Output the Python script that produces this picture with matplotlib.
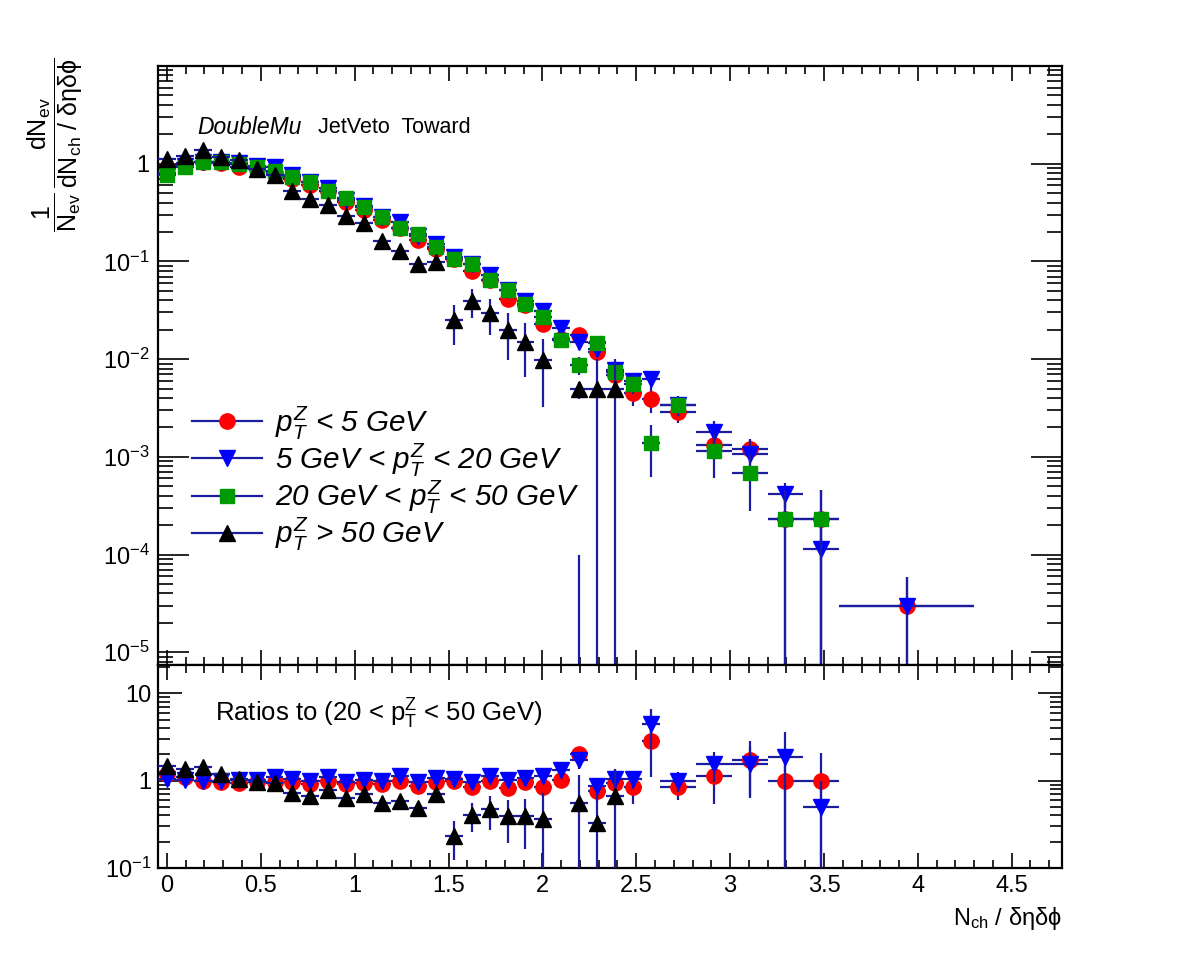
import numpy as np
import matplotlib
matplotlib.use('Agg')
import matplotlib.pyplot as plt
from matplotlib.lines import Line2D
from matplotlib.ticker import FixedLocator, NullFormatter, FuncFormatter, LogLocator, MultipleLocator

plt.rcParams['font.family'] = ['Liberation Sans', 'DejaVu Sans']
plt.rcParams['mathtext.fontset'] = 'custom'
plt.rcParams['mathtext.rm'] = 'Liberation Sans'
plt.rcParams['mathtext.it'] = 'Liberation Sans:italic'
plt.rcParams['mathtext.bf'] = 'Liberation Sans:bold'
plt.rcParams['mathtext.sf'] = 'Liberation Sans'

# ---------------- data ----------------
x_centers = [0.0, 0.0955, 0.191, 0.2865, 0.382, 0.4775, 0.573, 0.6685, 0.764, 0.8595,
             0.955, 1.0505, 1.146, 1.2415, 1.337, 1.4325, 1.528, 1.6235, 1.719, 1.8145,
             1.91, 2.0055, 2.101, 2.1965, 2.292, 2.3875, 2.483, 2.5785,
             2.722, 2.913, 3.104, 3.295, 3.486, 3.94]
x_halfwidth = [0.0477] * 28 + [0.0955, 0.0955, 0.0955, 0.0955, 0.0955, 0.358]

labels = [r'$p_T^Z$ < 5 GeV',
          r'5 GeV < $p_T^Z$ < 20 GeV',
          r'20 GeV < $p_T^Z$ < 50 GeV',
          r'$p_T^Z$ > 50 GeV']

N = None
red_vals = [0.91, 1.02, 1.03, 1.01, 0.93, 0.88, 0.81, 0.70, 0.60, 0.52, 0.41, 0.335, 0.265, 0.221,
            0.165, 0.134, 0.107, 0.080, 0.064, 0.041, 0.0355, 0.0231, 0.0159, 0.0175, 0.0118,
            0.0068, 0.0045, 0.0039, 0.0029, 0.00132, 0.00120, 0.000229, 0.000229, 2.95e-5]
red_errs = [0.02, 0.02, 0.02, 0.02, 0.02, 0.02, 0.02, 0.018, 0.016, 0.014, 0.012, 0.010, 0.009,
            0.008, 0.007, 0.006, 0.005, 0.0045, 0.004, 0.0035, 0.003, 0.0028, 0.0022, 0.0025,
            0.002, 0.0016, 0.0012, 0.0011, 0.0007, 0.00035, 0.00032, 0.000229, 0.000229, 2.9e-5]

blue_vals = [0.80, 0.95, 1.03, 1.03, 1.02, 0.94, 0.92, 0.77, 0.65, 0.57, 0.43, 0.37, 0.288, 0.252,
             0.181, 0.150, 0.112, 0.093, 0.073, 0.0515, 0.0395, 0.031, 0.0210, 0.0150, 0.0128,
             0.0078, 0.0060, 0.0062, 0.0034, 0.0018, 0.00108, 0.00042, 0.000115, 3.0e-5]
blue_errs = [0.02, 0.02, 0.02, 0.02, 0.02, 0.02, 0.02, 0.018, 0.016, 0.014, 0.012, 0.010, 0.009,
             0.008, 0.007, 0.006, 0.005, 0.0045, 0.004, 0.0035, 0.003, 0.0028, 0.0022, 0.0025,
             0.002, 0.0016, 0.0012, 0.0012, 0.0006, 0.0005, 0.0004, 0.00012, 0.000115, 2.9e-5]

green_vals = [0.76, 0.92, 1.03, 1.03, 1.0, 0.92, 0.84, 0.73, 0.65, 0.52, 0.45, 0.36, 0.288, 0.221,
              0.189, 0.14, 0.107, 0.0947, 0.064, 0.0505, 0.0369, 0.027, 0.0156, 0.00865, 0.0146,
              0.0074, 0.0056, 0.00137, 0.00342, 0.00115, 0.00068, 0.000229, 0.000229, N]
green_errs = [0.02, 0.02, 0.02, 0.02, 0.02, 0.02, 0.02, 0.018, 0.016, 0.014, 0.012, 0.010, 0.009,
              0.008, 0.007, 0.006, 0.005, 0.0045, 0.004, 0.0035, 0.003, 0.003, 0.0025, 0.0018,
              0.0025, 0.0015, 0.0012, 0.00075, 0.0008, 0.00055, 0.0004, 0.000229, 0.000229, N]

black_vals = [1.12, 1.21, 1.39, 1.18, 1.08, 0.89, 0.76, 0.53, 0.44, 0.38, 0.295, 0.246, 0.162,
              0.128, 0.093, 0.098, 0.0249, 0.0393, 0.0296, 0.0197, 0.015, 0.0097, N, 0.0049,
              0.0049, 0.0049, N, N, N, N, N, N, N, N]
black_errs = [0.05, 0.05, 0.06, 0.05, 0.045, 0.04, 0.035, 0.03, 0.027, 0.025, 0.022, 0.02, 0.016,
              0.014, 0.012, 0.012, 0.011, 0.013, 0.012, 0.010, 0.0085, 0.0065, N, 0.001,
              0.0052, 0.0052, N, N, N, N, N, N, N, N]

# isolated error segment seen at the 2.2 bin (drawn up to this value from the bottom)
stray_x = [2.1965]
stray_top = [1.0e-4]

red_ratio = [1.19, 1.11, 1.0, 0.98, 0.93, 0.96, 0.96, 0.96, 0.92, 1.0, 0.92, 0.93, 0.92, 1.0, 0.875,
             0.96, 1.0, 0.85, 1.0, 0.815, 0.96, 0.84, 1.02, 2.0, 0.77, 0.93, 0.84, 2.89, 0.853,
             1.14, 1.73, 1.0, 1.0, N]
red_ratio_err = [0.04, 0.035, 0.03, 0.03, 0.03, 0.03, 0.03, 0.03, 0.03, 0.035, 0.035, 0.04, 0.04,
                 0.045, 0.05, 0.055, 0.06, 0.07, 0.08, 0.09, 0.1, 0.11, 0.15, 0.45, 0.2, 0.25, 0.3,
                 1.8, 0.25, 0.6, 1.1, 1.0, 1.06, N]
blue_ratio = [1.05, 1.03, 1.0, 1.0, 1.02, 1.02, 1.09, 1.05, 1.0, 1.09, 0.96, 1.03, 1.0, 1.14, 0.96,
              1.07, 1.05, 0.98, 1.14, 1.02, 1.07, 1.14, 1.33, 1.73, 0.875, 1.05, 1.05, 4.5, 1.0,
              1.56, 1.56, 1.86, 0.5, N]
blue_ratio_err = [0.04, 0.035, 0.03, 0.03, 0.03, 0.03, 0.03, 0.03, 0.035, 0.035, 0.035, 0.04, 0.04,
                  0.045, 0.05, 0.055, 0.06, 0.07, 0.08, 0.09, 0.1, 0.11, 0.15, 0.35, 0.2, 0.3, 0.25,
                  2.2, 0.25, 0.6, 0.9, 1.8, 0.5, N]
black_ratio = [1.49, 1.36, 1.42, 1.19, 1.05, 0.96, 0.93, 0.73, 0.67, 0.78, 0.63, 0.70, 0.56, 0.59,
               0.49, 0.70, 0.232, 0.41, 0.47, 0.395, 0.395, 0.36, N, 0.56, 0.33, 0.67,
               N, N, N, N, N, N, N, N]
black_ratio_err = [0.08, 0.07, 0.07, 0.06, 0.05, 0.05, 0.05, 0.04, 0.04, 0.045, 0.04, 0.045, 0.04,
                   0.045, 0.05, 0.07, 0.11, 0.15, 0.2, 0.2, 0.23, 0.37, N, 0.6, 0.35, 0.7,
                   N, N, N, N, N, N, N, N]

x_ticks = [0, 0.5, 1, 1.5, 2, 2.5, 3, 3.5, 4, 4.5]
x_ticklabels = ['0', '0.5', '1', '1.5', '2', '2.5', '3', '3.5', '4', '4.5']

# ---------------- style ----------------
ERRC = '#1c1ca0'
styles = [dict(marker='o', mfc='#ff0000', ms=11),
          dict(marker='v', mfc='#0000ff', ms=11.5),
          dict(marker='s', mfc='#009900', ms=10),
          dict(marker='^', mfc='#000000', ms=11.5)]

W, H = 1182, 955
fig = plt.figure(figsize=(W / 100, H / 100), dpi=100)
L, R = 158, 1062
T1, B1, B2 = 66, 665, 868
ax1 = fig.add_axes([L / W, 1 - B1 / H, (R - L) / W, (B1 - T1) / H])
ax2 = fig.add_axes([L / W, 1 - B2 / H, (R - L) / W, (B2 - B1) / H])

XMIN, XMAX = -0.0477, 4.768
Y1MIN, Y1MAX = 7.4e-6, 10.0
Y2MIN, Y2MAX = 0.1, 21.2


def draw_series(ax, vals, errs, st, ymin, zorder):
    xs, ys, lo, hi, xe = [], [], [], [], []
    for x, hw, v, e in zip(x_centers, x_halfwidth, vals, errs):
        if v is None:
            continue
        xs.append(x)
        ys.append(v)
        xe.append(hw)
        low = v - e
        if low <= 0:
            low = ymin * 0.3
        lo.append(v - low)
        hi.append(e)
    ax.errorbar(xs, ys, yerr=[lo, hi], xerr=xe, fmt='none', ecolor=ERRC,
                elinewidth=1.6, capsize=0, zorder=zorder)
    ax.plot(xs, ys, linestyle='none', marker=st['marker'], mfc=st['mfc'],
            mec=st['mfc'], ms=st['ms'], zorder=zorder + 0.5)


series_top = [(red_vals, red_errs), (blue_vals, blue_errs),
              (green_vals, green_errs), (black_vals, black_errs)]
for i, (v, e) in enumerate(series_top):
    draw_series(ax1, v, e, styles[i], Y1MIN, 2 + i)
ax1.vlines(stray_x, Y1MIN * 0.3, stray_top, colors=ERRC, linewidth=1.6, zorder=2)

series_ratio = [(red_ratio, red_ratio_err, styles[0]), (blue_ratio, blue_ratio_err, styles[1]),
                (black_ratio, black_ratio_err, styles[3])]
for i, (v, e, st) in enumerate(series_ratio):
    draw_series(ax2, v, e, st, Y2MIN, 2 + i)

for ax in (ax1, ax2):
    ax.set_yscale('log')
    ax.set_xlim(XMIN, XMAX)
    ax.xaxis.set_major_locator(FixedLocator(x_ticks))
    ax.xaxis.set_minor_locator(MultipleLocator(0.1))
    ax.tick_params(which='both', direction='in', top=True, right=True, width=1.2, colors='black')
    ax.tick_params(axis='x', which='major', length=11)
    ax.tick_params(axis='x', which='minor', length=6)
    for s in ax.spines.values():
        s.set_linewidth(1.6)

ax1.set_ylim(Y1MIN, Y1MAX)
ax2.set_ylim(Y2MIN, Y2MAX)
ax1.tick_params(axis='y', which='major', length=22)
ax1.tick_params(axis='y', which='minor', length=11)
ax2.tick_params(axis='y', which='major', length=17)
ax2.tick_params(axis='y', which='minor', length=8.5)
ax1.yaxis.set_minor_locator(LogLocator(base=10, subs=np.arange(2, 10)))
ax2.yaxis.set_minor_locator(LogLocator(base=10, subs=np.arange(2, 10)))
ax1.yaxis.set_minor_formatter(NullFormatter())
ax2.yaxis.set_minor_formatter(NullFormatter())


def logfmt(v, pos):
    if abs(v - 1) < 1e-9:
        return '1'
    if abs(v - 10) < 1e-9:
        return '10'
    e = int(round(np.log10(v)))
    return r'$\mathregular{10^{%d}}$' % e


ax1.yaxis.set_major_locator(FixedLocator([1e-5, 1e-4, 1e-3, 1e-2, 1e-1, 1]))
ax1.yaxis.set_major_formatter(FuncFormatter(logfmt))
ax2.yaxis.set_major_locator(FixedLocator([0.1, 1, 10]))
ax2.yaxis.set_major_formatter(FuncFormatter(logfmt))
ax1.xaxis.set_major_formatter(NullFormatter())
ax2.set_xticklabels(x_ticklabels)
for ax in (ax1, ax2):
    ax.tick_params(axis='both', which='major', labelsize=17, pad=5)
ax1.tick_params(axis='y', pad=6)

# texts
ax1.text((197 - L) / (R - L), 0.898, 'DoubleMu', transform=ax1.transAxes, fontsize=16.5,
         style='italic', ha='left', va='center')
ax1.text((318 - L) / (R - L), 0.898, 'JetVeto  Toward', transform=ax1.transAxes, fontsize=15.5,
         ha='left', va='center')
ax2.text((215 - L) / (R - L), 0.76, r'Ratios to (20 < $\mathrm{p_T^Z}$ < 50 GeV)',
         transform=ax2.transAxes, fontsize=18.5, ha='left', va='center')

fig.text(1062 / W, 1 - 918 / H, r'$\mathrm{N_{ch}}$ / $\mathrm{\delta\eta\delta\phi}$', fontsize=17,
         ha='right', va='center')
fig.text(55 / W, 1 - 145 / H,
         r'$\mathrm{\dfrac{1}{N_{ev}}\,\dfrac{dN_{ev}}{dN_{ch}\ /\ \delta\eta\delta\phi}}$',
         fontsize=18, rotation=90, ha='center', va='center')

handles = [Line2D([0], [0], color=ERRC, lw=1.6, marker=st['marker'], mfc=st['mfc'],
                  mec=st['mfc'], ms=st['ms']) for st in styles]
leg = ax1.legend(handles, labels, loc='upper left', bbox_to_anchor=((192 - L) / (R - L), 0.435),
                 frameon=False, prop={'style': 'italic', 'size': 21.3},
                 handlelength=2.35, handletextpad=0.45, labelspacing=0.0, borderpad=0,
                 borderaxespad=0)

fig.savefig('out.png', dpi=100, facecolor='white')
